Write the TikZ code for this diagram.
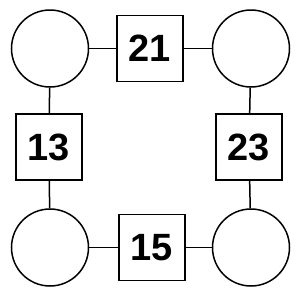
\documentclass[tikz,border=0pt]{standalone}
\usepackage{fontspec}
\setmainfont{Liberation Sans}
\usetikzlibrary{positioning}

\begin{document}
\begin{tikzpicture}[
    x=1pt, y=-1pt,
    spot/.style={draw, circle, line width=1.5pt, minimum size=77pt, inner sep=0pt},
    num/.style={draw, line width=1.5pt, minimum size=66pt, inner sep=0pt, font=\fontsize{38}{38}\selectfont\bfseries},
    link/.style={line width=1.5pt},
]
\useasboundingbox (0,0) rectangle (300,300);
% corners
\node[spot] (c1) at (50, 48.5) {};
\node[spot] (c2) at (251, 48.5) {};
\node[spot] (c3) at (50, 247.5) {};
\node[spot] (c4) at (251, 247.5) {};

% numbers
\node[num] (top) at (150, 48.5) {21};
\node[num] (left) at (49, 147) {13};
\node[num] (right) at (249, 147) {23};
\node[num] (bot) at (152, 247.5) {15};

\draw[link] (c1) -- (top);
\draw[link] (top) -- (c2);
\draw[link] (c1) -- (left);
\draw[link] (left) -- (c3);
\draw[link] (c2) -- (right);
\draw[link] (right) -- (c4);
\draw[link] (c3) -- (bot);
\draw[link] (bot) -- (c4);
\end{tikzpicture}
\end{document}
